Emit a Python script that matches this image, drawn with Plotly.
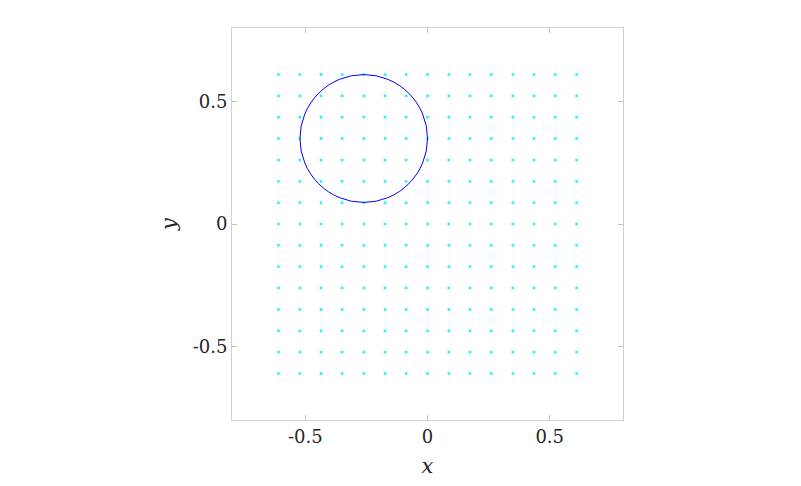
import plotly.graph_objects as go

# grid of sample points (15 x 15)
grid_x = [-0.61, -0.523, -0.436, -0.349, -0.261, -0.174, -0.087, 0.0,
          0.087, 0.174, 0.261, 0.349, 0.436, 0.523, 0.61]
grid_y = [-0.61, -0.523, -0.436, -0.349, -0.261, -0.174, -0.087, 0.0,
          0.087, 0.174, 0.261, 0.349, 0.436, 0.523, 0.61]

circle_center = (-0.261, 0.349)
circle_radius = 0.261

tick_vals = [-0.5, 0, 0.5]
tick_text = ["-0.5", "0", "0.5"]

px = [x for y in grid_y for x in grid_x]
py = [y for y in grid_y for x in grid_x]

FONT = "DejaVu Serif"

fig = go.Figure()
fig.add_trace(go.Scatter(
    x=px, y=py, mode="markers",
    marker=dict(symbol="square", size=2.5, color="#00ffff", line=dict(width=0)),
    showlegend=False, hoverinfo="skip"))

cx, cy = circle_center
fig.add_shape(type="circle", xref="x", yref="y",
              x0=cx - circle_radius, x1=cx + circle_radius,
              y0=cy - circle_radius, y1=cy + circle_radius,
              line=dict(color="#0000ff", width=1))

axis_common = dict(
    range=[-0.8, 0.8], tickvals=tick_vals, ticktext=tick_text,
    showgrid=False, zeroline=False, showline=True, mirror="ticks",
    linecolor="#d0d0d0", linewidth=1, ticks="inside", ticklen=5,
    tickcolor="#c0c0c0", tickfont=dict(family=FONT, size=18, color="#262626"),
)

fig.update_xaxes(**axis_common,
                 title=dict(text="<i>x</i>", font=dict(family=FONT, size=21, color="#262626"), standoff=12))
fig.update_yaxes(**axis_common,
                 title=dict(text="<i>y</i>", font=dict(family=FONT, size=21, color="#262626"), standoff=10))

fig.update_layout(
    width=801, height=486,
    margin=dict(l=224, r=186, t=20, b=74),
    paper_bgcolor="white", plot_bgcolor="white",
    font=dict(family=FONT),
)

fig.write_html("out.html")
